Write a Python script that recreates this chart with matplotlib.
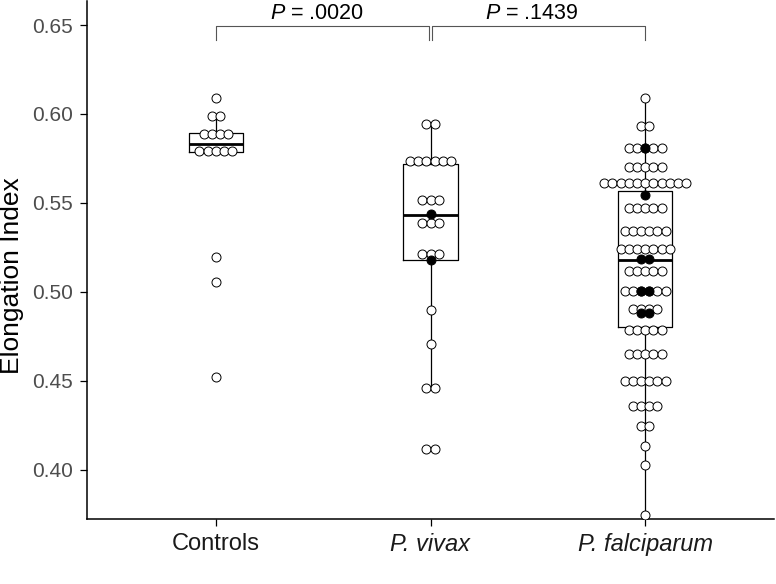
import numpy as np
import matplotlib
matplotlib.use("Agg")
import matplotlib.pyplot as plt

plt.rcParams['font.family'] = ['Liberation Sans', 'DejaVu Sans']
plt.rcParams['mathtext.fontset'] = 'custom'
plt.rcParams['mathtext.rm'] = 'Liberation Sans'
plt.rcParams['mathtext.it'] = 'Liberation Sans:italic'

# ---------------- data ----------------
groups = ["Controls", "P. vivax", "P. falciparum"]
italic = [False, True, True]

# open dots: binned levels and how many dots sit in each bin
ctrl_levels = [0.6087, 0.5990, 0.5886, 0.5792, 0.5196, 0.5057, 0.4520]
ctrl_counts = [1, 2, 4, 5, 1, 1, 1]

viv_levels = [0.5946, 0.5736, 0.5518, 0.5387, 0.5211, 0.4895, 0.4708, 0.4460, 0.4114]
viv_counts = [2, 6, 3, 3, 3, 1, 1, 2, 2]

fal_levels = [0.6087, 0.5933, 0.5809, 0.5702, 0.5612, 0.5469, 0.5342, 0.5243,
              0.5115, 0.5004, 0.4905, 0.4783, 0.4651, 0.4499, 0.4360, 0.4244,
              0.4135, 0.4027, 0.3745]
fal_counts = [1, 2, 5, 5, 11, 5, 6, 7, 5, 6, 4, 5, 5, 6, 4, 2, 1, 1, 1]

# highlighted (filled) dots
viv_fill_levels = [0.5436, 0.5177]
viv_fill_counts = [1, 1]
fal_fill_levels = [0.5809, 0.5545, 0.5186, 0.5004, 0.4882]
fal_fill_counts = [1, 1, 2, 2, 2]

# box statistics
box_whislo = [0.5780, 0.4460, 0.3745]
box_q1 = [0.5787, 0.5177, 0.4801]
box_med = [0.5830, 0.5429, 0.5177]
box_q3 = [0.5894, 0.5717, 0.5567]
box_whishi = [0.6000, 0.5946, 0.6087]

# pairwise comparisons
comp_pairs = [(1, 2), (2, 3)]
comp_labels = [".0020", ".1439"]

y_ticks = [0.40, 0.45, 0.50, 0.55, 0.60, 0.65]

# ---------------- figure ----------------
fig = plt.figure(figsize=(7.76, 5.84), dpi=100)
ax = fig.add_axes([87 / 776, 65 / 584, (774 - 87) / 776, (519 - 1) / 584])
ax.set_xlim(0.4, 3.6)
ax.set_ylim(0.3722, 0.6635)

positions = [1, 2, 3]
stats = []
for i in range(3):
    stats.append(dict(med=box_med[i], q1=box_q1[i], q3=box_q3[i],
                      whislo=box_whislo[i], whishi=box_whishi[i], fliers=[]))
ax.bxp(stats, positions=positions, widths=0.252, showfliers=False, showcaps=False,
       boxprops=dict(color='black', lw=0.9),
       whiskerprops=dict(color='black', lw=0.9),
       medianprops=dict(color='black', lw=2.0),
       manage_ticks=False)

dot_w = 8.2 / 214.7  # horizontal spacing of stacked dots (data units)


def stack(pos, levels, counts, face):
    xs, ys = [], []
    for lv, n in zip(levels, counts):
        offs = (np.arange(n) - (n - 1) / 2) * dot_w
        xs.extend(pos + offs)
        ys.extend([lv] * n)
    ax.scatter(xs, ys, s=42, facecolor=face, edgecolor='black', linewidth=0.7, zorder=3)


stack(1, ctrl_levels, ctrl_counts, 'white')
stack(2, viv_levels, viv_counts, 'white')
stack(3, fal_levels, fal_counts, 'white')
stack(2, viv_fill_levels, viv_fill_counts, 'black')
stack(3, fal_fill_levels, fal_fill_counts, 'black')

# comparison brackets
y_br = 0.6494
y_lo = 0.6416
gap = 0.005
for (a, b), lab in zip(comp_pairs, comp_labels):
    xa = a + (gap if a == 2 else 0)
    xb = b - (gap if b == 2 else 0)
    ax.plot([xa, xa, xb, xb], [y_lo, y_br, y_br, y_lo], color='#555555', lw=0.8,
            clip_on=False, zorder=2)
    ax.text((a + b) / 2 - 0.03, 0.6535, r'$\mathit{P}$' + ' = ' + lab, ha='center',
            va='baseline', fontsize=15.5, color='black')

# axes styling
for s in ['top', 'right']:
    ax.spines[s].set_visible(False)
for s in ['left', 'bottom']:
    ax.spines[s].set_linewidth(1.1)
    ax.spines[s].set_color('black')

ax.set_yticks(y_ticks)
ax.set_yticklabels([f"{v:.2f}" for v in y_ticks], fontsize=15, color='#4D4D4D')
ax.set_xticks(positions)
ax.set_xticklabels(groups, fontsize=17, color='#1a1a1a')
for lbl, it in zip(ax.get_xticklabels(), italic):
    if it:
        lbl.set_fontstyle('italic')
ax.tick_params(axis='both', length=5, width=0.9, color='black')
ax.tick_params(axis='y', pad=5)
ax.tick_params(axis='x', pad=5)
ax.set_ylabel("Elongation Index", fontsize=19)
ax.yaxis.set_label_coords(-0.0917, 0.469)

fig.savefig("out.png", dpi=100)
